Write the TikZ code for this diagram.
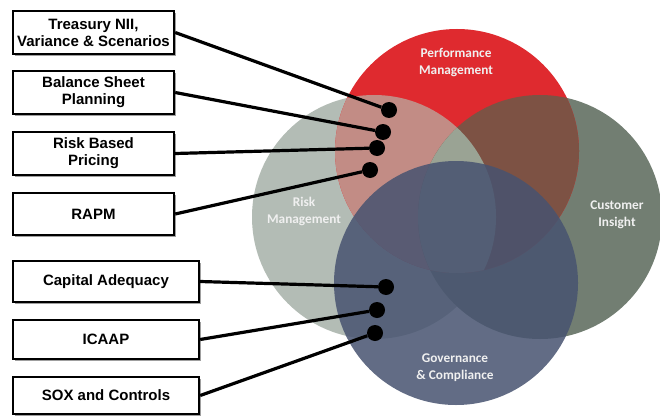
\documentclass[tikz,border=0pt]{standalone}
\usepackage{fontspec}
\setmainfont{Liberation Sans}
\newfontfamily\circfont{Carlito}
\usetikzlibrary{shadows}
\definecolor{riskc}{HTML}{B3BCB5}
\definecolor{custc}{HTML}{727E72}
\definecolor{perfc}{HTML}{DF2A2F}
\definecolor{pinkc}{HTML}{C28C85}
\definecolor{brownc}{HTML}{7D5244}
\definecolor{midc}{HTML}{9AA394}
\definecolor{govc}{HTML}{475370}
\definecolor{labc}{HTML}{F0F0F0}
\tikzset{
  labbox/.style={draw=black, line width=2.4pt, fill=white, align=center,
    inner sep=1pt, font=\bfseries\fontsize{15}{17}\selectfont,
    drop shadow={shadow xshift=2.2pt, shadow yshift=-2.2pt, fill=gray!75, opacity=1}},
  dotnode/.style={circle, fill=black, minimum size=16pt, inner sep=0pt},
  conn/.style={line width=3.2pt, black},
  circtext/.style={align=center, text=labc, inner sep=0pt,
    font=\circfont\bfseries\fontsize{13.3}{17}\selectfont}
}
\begin{document}
\begin{tikzpicture}[x=1pt,y=-1pt]
\useasboundingbox (0,0) rectangle (660,417);
\fill[white] (0,0) rectangle (660,417);
% circles
\fill[riskc] (374,217) circle[radius=122pt];
\fill[custc] (540,217) circle[radius=122pt];
\fill[perfc] (457,151) circle[radius=122pt];
\begin{scope}
  \clip (457,151) circle[radius=122pt];
  \fill[pinkc] (374,217) circle[radius=122pt];
  \fill[brownc] (540,217) circle[radius=122pt];
  \clip (374,217) circle[radius=122pt];
  \fill[midc] (540,217) circle[radius=122pt];
\end{scope}
\fill[govc, opacity=0.85] (456,283) circle[radius=122pt];
% circle labels
\node[circtext] (tperf) at (456,63) {Performance\\Management};
\node[circtext] (trisk) at (304,211) {Risk\\Management};
\node[circtext] (tcust) at (617,215) {Customer\\Insight};
\node[circtext] (tgov) at (455,368) {Governance\\\& Compliance};
% boxes
\node[labbox, minimum width=161pt, minimum height=43pt] (b1) at (93.5,32.5) {Treasury NII,\\Variance \& Scenarios};
\node[labbox, minimum width=161pt, minimum height=43pt] (b2) at (93.5,92.5) {Balance Sheet\\Planning};
\node[labbox, minimum width=161pt, minimum height=43pt] (b3) at (93.5,153.5) {Risk Based\\Pricing};
\node[labbox, minimum width=161pt, minimum height=42pt] (b4) at (93.5,214) {RAPM};
\node[labbox, minimum width=186pt, minimum height=41pt] (b5) at (106,281.5) {Capital Adequacy};
\node[labbox, minimum width=186pt, minimum height=39pt] (b6) at (106,339.5) {ICAAP};
\node[labbox, minimum width=186pt, minimum height=37pt] (b7) at (106,395.5) {SOX and Controls};
% dots
\node[dotnode] (d1) at (389,110) {};
\node[dotnode] (d2) at (383,132) {};
\node[dotnode] (d3) at (377,148) {};
\node[dotnode] (d4) at (370,170) {};
\node[dotnode] (d5) at (386,287) {};
\node[dotnode] (d6) at (377,310) {};
\node[dotnode] (d7) at (375,333) {};
% connectors
\draw[conn] (b1.east) -- (d1);
\draw[conn] (b2.east) -- (d2);
\draw[conn] (b3.east) -- (d3);
\draw[conn] (b4.east) -- (d4);
\draw[conn] (b5.east) -- (d5);
\draw[conn] (b6.east) -- (d6);
\draw[conn] (b7.east) -- (d7);
\end{tikzpicture}
\end{document}
